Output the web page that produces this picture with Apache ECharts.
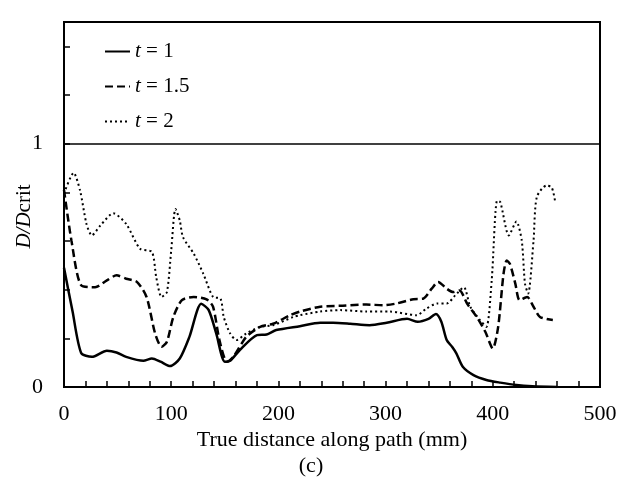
<!DOCTYPE html>
<html>
<head>
<meta charset="utf-8">
<script src="https://cdn.jsdelivr.net/npm/echarts@6/dist/echarts.min.js"></script>
<style>html,body{margin:0;padding:0;background:#fff;}#c{width:622px;height:478px;}</style>
</head>
<body>
<div id="c"></div>
<script>
const seriesNames = ['1', '1.5', '2'];
const xTicks = [0, 100, 200, 300, 400, 500];
const yTickLabels = [0, 1];

const x1 = [0,8,16,26,40,49,58,74,82,90,99,108,117,128,135,142,150,155,164,180,189,198,220,239,251,267,285,301,320,330,340,347,352,357,362,366,372,382,394,407,422,437,460];
const y1 = [0.49,0.31,0.14,0.124,0.149,0.142,0.124,0.108,0.117,0.104,0.086,0.117,0.206,0.342,0.316,0.22,0.104,0.108,0.152,0.213,0.216,0.234,0.25,0.264,0.264,0.26,0.254,0.264,0.28,0.268,0.28,0.30,0.268,0.193,0.165,0.138,0.083,0.049,0.029,0.018,0.008,0.003,0.0];

const x15 = [0,7,16,29,40,49,58,68,77,85,91,96,102,110,121,133,139,145,152,158,170,183,195,211,220,239,260,282,298,310,326,335,343,349,357,363,369,376,385,393,400,405,410,413,416,421,425,432,438,444,456];
const y15 = [0.81,0.6,0.418,0.41,0.438,0.459,0.445,0.432,0.37,0.22,0.165,0.186,0.288,0.357,0.37,0.36,0.33,0.193,0.104,0.124,0.206,0.247,0.26,0.295,0.31,0.33,0.334,0.339,0.336,0.343,0.361,0.363,0.404,0.432,0.404,0.39,0.397,0.343,0.288,0.227,0.158,0.247,0.465,0.52,0.506,0.425,0.357,0.37,0.33,0.288,0.275];

const x2 = [0,9,15,21,26,34,46,58,71,82,86,91,96,100,104,108,111,121,130,139,146,149,155,161,170,183,195,214,220,239,258,282,304,329,338,348,357,365,373,379,388,394,399,404,407,415,422,427,430,433,438,441,450,455,458];
const y2 = [0.795,0.88,0.807,0.67,0.623,0.664,0.714,0.67,0.568,0.555,0.452,0.37,0.39,0.561,0.732,0.684,0.616,0.548,0.465,0.37,0.363,0.288,0.22,0.193,0.22,0.247,0.254,0.288,0.295,0.31,0.316,0.31,0.31,0.295,0.322,0.343,0.343,0.377,0.41,0.33,0.275,0.247,0.44,0.766,0.76,0.623,0.68,0.602,0.425,0.384,0.602,0.78,0.828,0.82,0.766];

const refLine = 1;

function zip(xs, ys) { return xs.map((x, i) => [x, ys[i]]); }

const FONT = '"Liberation Serif", "Times New Roman", serif';
const chart = echarts.init(document.getElementById('c'));
chart.setOption({
  animation: false,
  backgroundColor: '#fff',
  title: {
    text: '(c)', left: 'center', top: 450,
    textStyle: { fontFamily: FONT, fontSize: 22, fontWeight: 'normal', color: '#000' }
  },
  grid: { left: 64, right: 22, top: 22, bottom: 91, show: true, borderColor: '#000', borderWidth: 2, backgroundColor: 'transparent', containLabel: false, outerBoundsMode: 'none' },
  legend: {
    orient: 'vertical', left: 99, top: 36, itemGap: 14, itemWidth: 25, itemHeight: 14,
    data: seriesNames,
    itemStyle: { opacity: 0 },
    formatter: n => '{i|t} = ' + n,
    textStyle: {
      fontFamily: FONT, fontSize: 21, color: '#000',
      rich: { i: { fontFamily: FONT, fontSize: 21, fontStyle: 'italic', color: '#000' } }
    }
  },
  xAxis: {
    type: 'value', min: xTicks[0], max: xTicks[xTicks.length - 1], interval: 100,
    name: 'True distance along path (mm)', nameLocation: 'middle', nameGap: 42,
    nameMoveOverlap: false,
    nameTextStyle: { fontFamily: FONT, fontSize: 22, color: '#000' },
    axisLine: { show: true, lineStyle: { color: '#000', width: 2 } },
    axisTick: { show: true, inside: true, length: 6, lineStyle: { color: '#000', width: 1.5 } },
    minorTick: { show: true, splitNumber: 5, length: 6, lineStyle: { color: '#000', width: 1.5 } },
    axisLabel: { fontFamily: FONT, fontSize: 22, color: '#000', margin: 16 },
    splitLine: { show: false }
  },
  yAxis: {
    type: 'value', min: 0, max: 1.5, interval: 0.2,
    name: '{i|D/D}{n|crit}{s|}', nameLocation: 'middle', nameGap: 29, nameRotate: 90,
    nameMoveOverlap: false,
    nameTextStyle: {
      rich: {
        i: { fontFamily: FONT, fontSize: 21, fontStyle: 'italic', color: '#000' },
        n: { fontFamily: FONT, fontSize: 21, color: '#000' },
        s: { width: 24 }
      }
    },
    axisLine: { show: true, lineStyle: { color: '#000', width: 2 } },
    axisTick: { show: true, inside: true, length: 6, lineStyle: { color: '#000', width: 1.5 } },
    axisLabel: {
      fontFamily: FONT, fontSize: 22, color: '#000', margin: 21, showMaxLabel: false,
      formatter: v => yTickLabels.some(t => Math.abs(t - v) < 1e-6) ? String(Math.round(v)) : ''
    },
    splitLine: { show: false }
  },
  series: [
    {
      name: seriesNames[0], type: 'line', data: zip(x1, y1), symbol: 'none', smooth: 0.25,
      lineStyle: { color: '#000', width: 2.5, type: 'solid' }, itemStyle: { color: '#000' },
      markLine: {
        silent: true, symbol: 'none', label: { show: false },
        lineStyle: { color: '#000', width: 1.5, type: 'solid' },
        data: [{ yAxis: refLine }]
      }
    },
    {
      name: seriesNames[1], type: 'line', data: zip(x15, y15), symbol: 'none', smooth: 0.25,
      lineStyle: { color: '#000', width: 2.5, type: [8, 4] }, itemStyle: { color: '#000' }
    },
    {
      name: seriesNames[2], type: 'line', data: zip(x2, y2), symbol: 'none', smooth: 0.25,
      lineStyle: { color: '#000', width: 2, type: [2, 3] }, itemStyle: { color: '#000' }
    }
  ]
});
</script>
</body>
</html>
